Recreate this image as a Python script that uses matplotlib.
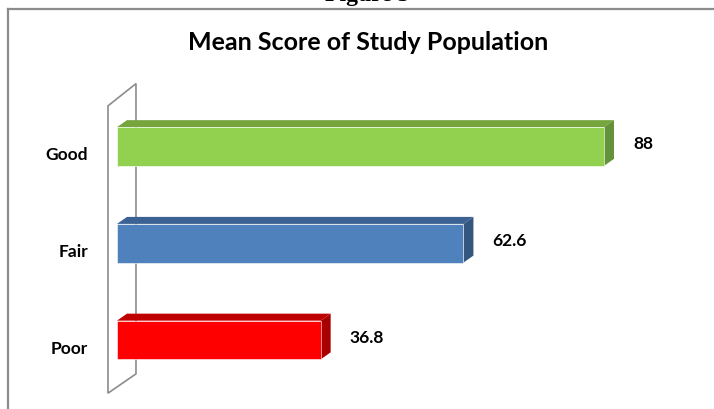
import matplotlib
matplotlib.use('Agg')
import matplotlib.pyplot as plt
from matplotlib.patches import Polygon
from matplotlib.lines import Line2D

# dados do grafico
categorias = ['Poor', 'Fair', 'Good']
medias = [36.8, 62.6, 88]
rotulos = ['36.8', '62.6', '88']
cores_frente = ['#FF0000', '#4F81BD', '#92D050']
cores_topo = ['#C00000', '#3B6293', '#76A53E']
cores_lado = ['#A80000', '#35577F', '#64923A']

plt.rcParams['font.family'] = ['Lato', 'DejaVu Sans']

W, H = 714, 410
fig = plt.figure(figsize=(W / 100, H / 100), dpi=100)

# eixo posicionado em pixels: valor 0 cai em x=117px
esc_x = 5.534   # px por unidade
esc_y = 96.75   # px por categoria
x0_px = 117
y0_px = 69      # centro da barra "Poor", contado de baixo
L, R = 95, 700
B, T = 5, 340
ax = fig.add_axes([L / W, B / H, (R - L) / W, (T - B) / H])
ax.set_xlim((L - x0_px) / esc_x, (R - x0_px) / esc_x)
ax.set_ylim((B - y0_px) / esc_y, (T - y0_px) / esc_y)
ax.axis('off')

# profundidade do efeito 3d
dx = 10 / esc_x
dy = 7 / esc_y
alt = 0.40

# parede do fundo (plano fino atras das barras)
parede = Polygon([(-1.63, -0.55), (-1.63, 2.42), (3.43, 2.65), (3.43, -0.35)],
                 closed=True, facecolor='white', edgecolor='#8C8C8C', lw=1.2, zorder=0)
ax.add_patch(parede)

pos = list(range(len(categorias)))
ax.barh(pos, medias, height=alt, color=cores_frente, edgecolor='#FFFFFF', linewidth=0.4, zorder=3)

for y, v, ct, cl in zip(pos, medias, cores_topo, cores_lado):
    topo = Polygon([(0, y + alt / 2), (dx, y + alt / 2 + dy), (v + dx, y + alt / 2 + dy), (v, y + alt / 2)],
                   closed=True, facecolor=ct, edgecolor='none', zorder=2)
    lado = Polygon([(v, y - alt / 2), (v, y + alt / 2), (v + dx, y + alt / 2 + dy), (v + dx, y - alt / 2 + dy)],
                   closed=True, facecolor=cl, edgecolor='none', zorder=2)
    ax.add_patch(topo)
    ax.add_patch(lado)

for y, v, r in zip(pos, medias, rotulos):
    ax.text(v + 29 / esc_x, y + 3 / esc_y, r, ha='left', va='center',
            fontsize=12.5, fontweight='bold', color='black')

for y, c in zip(pos, categorias):
    ax.text((88 - x0_px) / esc_x, y - 8 / esc_y, c, ha='right', va='center',
            fontsize=12.5, fontweight='bold', color='black')

fig.text(368 / W, 1 - 43 / H, 'Mean Score of Study Population', ha='center', va='center',
         fontsize=18, fontweight='bold', color='black')

# titulo da figura cortado no topo
fig.text(367 / W, 1 - 1 / H, 'Figure 5', ha='center', va='baseline',
         fontsize=17, fontweight='bold', family=['Liberation Serif', 'DejaVu Serif'])

# moldura do grafico
fig.add_artist(Line2D([8 / W, 8 / W], [0, 1 - 10 / H], color='#8C8C8C', lw=1.6))
fig.add_artist(Line2D([8 / W, 1], [1 - 10 / H, 1 - 10 / H], color='#8C8C8C', lw=1.6))

plt.savefig('out.png', dpi=100)
plt.close()
